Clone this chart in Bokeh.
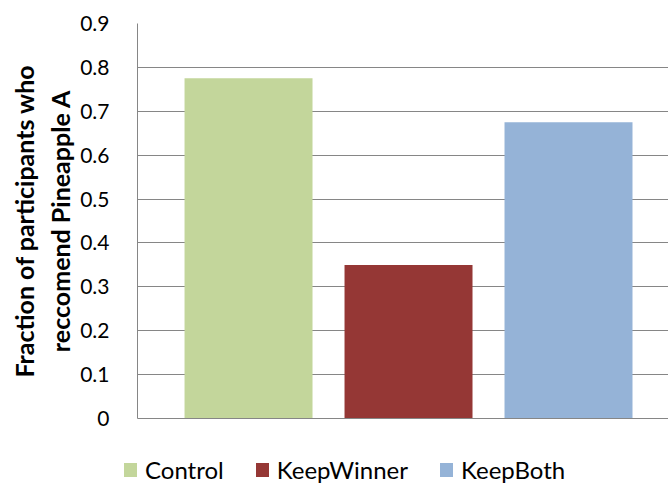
from bokeh.plotting import figure
from bokeh.models import Range1d, FixedTicker, CustomJSTickFormatter, Div
from bokeh.layouts import column
from bokeh.embed import file_html
from bokeh.resources import INLINE

categories = ["Control", "KeepWinner", "KeepBoth"]
values = [0.775, 0.35, 0.675]
colors = ["#C3D69B", "#953735", "#95B3D7"]
y_ticks = [0, 0.1, 0.2, 0.3, 0.4, 0.5, 0.6, 0.7, 0.8, 0.9]

FONT = "Lato"
GRID = "#868686"

p = figure(width=668, height=430, output_backend="svg", toolbar_location=None,
           x_range=Range1d(-0.694, 2.625), y_range=Range1d(0, 0.9),
           min_border_left=137, min_border_right=0, min_border_top=23, min_border_bottom=12)
p.outline_line_color = None

for i, (v, col) in enumerate(zip(values, colors)):
    p.vbar(x=[i], top=[v], bottom=0, width=0.8, fill_color=col, line_color=None)

p.xaxis.ticker = FixedTicker(ticks=[])
p.xaxis.major_label_text_font_size = "0px"
p.xaxis.axis_line_color = GRID
p.xaxis.major_tick_line_color = None
p.xaxis.minor_tick_line_color = None
p.xgrid.visible = False

p.yaxis.ticker = FixedTicker(ticks=y_ticks)
p.yaxis.formatter = CustomJSTickFormatter(code="var s = tick.toFixed(1); return s == '0.0' ? '0' : s;")
p.yaxis.major_tick_line_color = None
p.yaxis.minor_tick_line_color = None
p.yaxis.axis_line_color = GRID
p.yaxis.major_label_standoff = 22
p.yaxis.major_label_text_font = FONT
p.yaxis.major_label_text_font_size = "21px"
p.yaxis.major_label_text_color = "black"
p.yaxis.axis_label = "Fraction of participants who\nreccomend Pineapple A"
p.yaxis.axis_label_text_font = FONT
p.yaxis.axis_label_text_font_style = "bold"
p.yaxis.axis_label_text_font_size = "25px"
p.yaxis.axis_label_text_color = "black"
p.yaxis.axis_label_standoff = 2
p.ygrid.ticker = FixedTicker(ticks=y_ticks)
p.ygrid.grid_line_color = GRID

# Legend row below the chart
items_html = "".join(
    f'<span style="display:inline-block;width:13px;height:14px;background:{col};'
    f'margin-right:8px;vertical-align:middle"></span>'
    f'<span style="margin-right:32px;vertical-align:middle">{c}</span>'
    for c, col in zip(categories, colors)
)
legend_div = Div(
    text=f'<div style="padding-left:124px;padding-top:24px;font-family:Lato;'
         f'font-size:24px;line-height:26px;color:black;white-space:nowrap">{items_html}</div>',
    width=668, height=55, margin=0)

layout = column(p, legend_div, spacing=0)
html = file_html(layout, INLINE)
html = html.replace("<body>", "<body style=\"overflow:hidden\">", 1)
open("out.html", "w").write(html)
